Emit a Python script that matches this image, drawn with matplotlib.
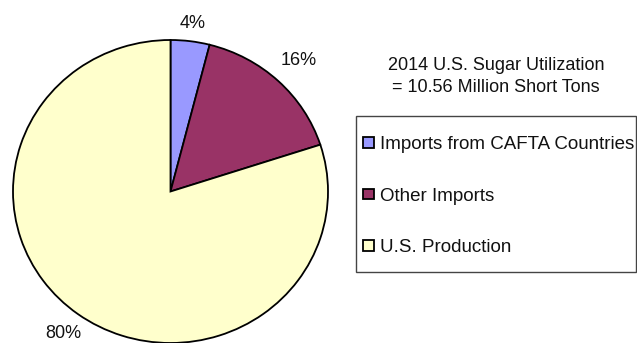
import matplotlib
matplotlib.use('Agg')
import matplotlib.pyplot as plt
from matplotlib.patches import Rectangle

# data
labels = ['Imports from CAFTA Countries', 'Other Imports', 'U.S. Production']
shares = [4, 16, 80]
colors = ['#9999FF', '#993366', '#FFFFCC']
title = '2014 U.S. Sugar Utilization\n= 10.56 Million Short Tons'

# label distance (in radii) for each percentage
label_dist = [1.12, 1.19, 1.16]

plt.rcParams['font.family'] = ['Liberation Sans', 'DejaVu Sans']

W, H = 637, 343
fig = plt.figure(figsize=(W / 100, H / 100), dpi=100)

# pie axes in pixel units; the original pie is slightly squashed
cx, cy, rx, ry = 170.5, 191.5, 157.5, 151.5
ax = fig.add_axes([(cx - rx) / W, (H - cy - ry) / H, 2 * rx / W, 2 * ry / H])
wedges, texts, autotexts = ax.pie(
    shares, colors=colors, startangle=90, counterclock=False,
    autopct='%.0f%%', pctdistance=1.0,
    wedgeprops=dict(edgecolor='black', linewidth=1.3),
    textprops=dict(fontsize=13, color='#111111'))
for t, d in zip(autotexts, label_dist):
    x, y = t.get_position()
    t.set_position((x * d, y * d))
ax.set_xlim(-1, 1)
ax.set_ylim(-1, 1)
ax.set_aspect('auto')

fig.text(496 / W, 1 - 76.5 / H, title, ha='center', va='center',
         fontsize=13, linespacing=1.35, color='#111111')

# legend box, right side right at the picture edge as in the original
fig.patches.append(Rectangle((356 / W, 1 - 272 / H), 280 / W, 156 / H,
                             transform=fig.transFigure, facecolor='white',
                             edgecolor='#444444', linewidth=1.0, zorder=0))

leg = fig.legend(wedges, labels, loc='upper left',
                 bbox_to_anchor=(356 / W, 1 - 129 / H),
                 frameon=False, fontsize=13.5,
                 handlelength=0.58, handleheight=0.52, handletextpad=0.32,
                 labelspacing=1.85, borderpad=0.37, borderaxespad=0)
for t in leg.get_texts():
    t.set_color('#111111')

plt.savefig('out.png', dpi=100)
plt.close()
